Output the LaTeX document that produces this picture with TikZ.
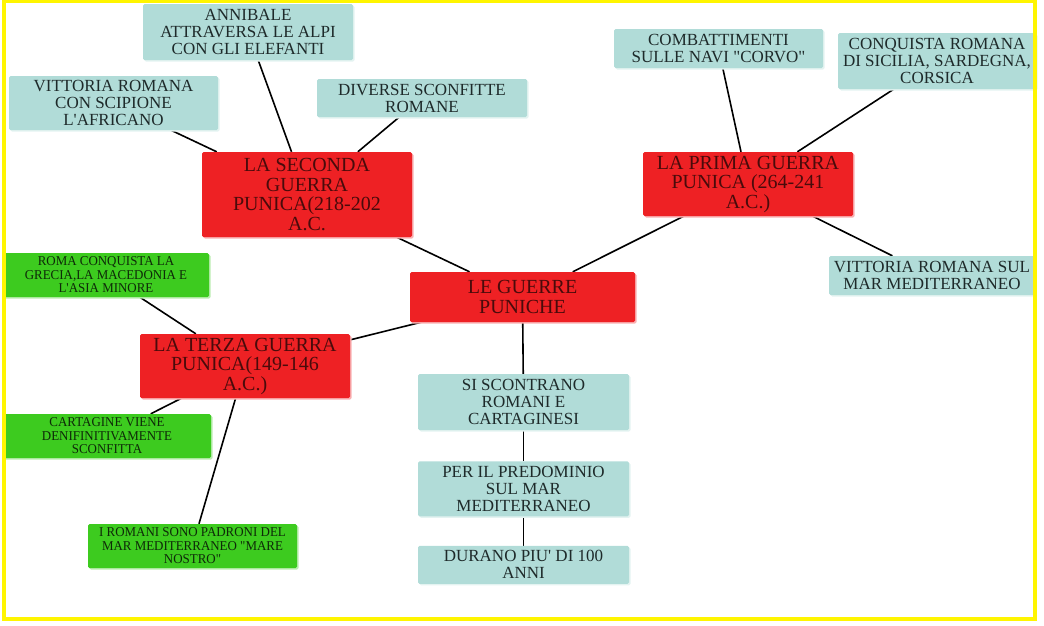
\documentclass[tikz,border=0pt]{standalone}
\usepackage{fontspec}
\setmainfont{Liberation Serif}[Ligatures=TeXOff]
\newfontfamily\narrowserif{Liberation Serif}[FakeStretch=0.96, Ligatures=TeXOff]
\usetikzlibrary{positioning, shadows, backgrounds}
\definecolor{Map_Red}{HTML}{EE2124}
\definecolor{Map_Teal}{HTML}{B1DCD8}
\definecolor{Map_Green}{HTML}{3DCB1F}
\definecolor{Map_Wine}{HTML}{4A0B0B}
\definecolor{Map_Ink}{HTML}{1E2A2A}
\definecolor{Map_Leaf}{HTML}{0E2A08}
\definecolor{Map_Yellow}{HTML}{FFF500}

\begin{document}
\begin{tikzpicture}[x=1pt, y=-1pt,
  box/.style={fill=#1, rounded corners=1.5pt, align=center, inner xsep=2pt, inner ysep=1pt,
    drop shadow={shadow xshift=1.5pt, shadow yshift=-1.5pt, opacity=1, fill=#1!35}},
  war/.style={box=Map_Red, text=Map_Wine, font=\fontsize{20}{19.5}\selectfont,
    minimum width=210pt},
  fact/.style={box=Map_Teal, text=Map_Ink, font=\fontsize{17}{17}\selectfont,
    minimum width=210pt},
  note/.style={box=Map_Green, text=Map_Leaf, font=\narrowserif\fontsize{13.5}{13.5}\selectfont,
    minimum width=209pt, minimum height=44pt},
  link/.style={line width=1.6pt, black}
]
  \useasboundingbox (0,0) rectangle (1044,625);

  % Central topic and the three wars
  \node[war, minimum width=225pt, minimum height=50pt] (main) at (522.5,297) {LE GUERRE\\PUNICHE};
  \node[war, minimum height=85pt] (seconda) at (307,194.5) {LA SECONDA\\GUERRA\\PUNICA(218-202\\A.C.};
  \node[war, minimum height=64pt] (prima) at (748,184) {LA PRIMA GUERRA\\PUNICA (264-241\\A.C.)};
  \node[war, minimum height=64pt] (terza) at (245,366) {LA TERZA GUERRA\\PUNICA(149-146\\A.C.)};

  % Second war
  \node[fact, minimum height=56pt] (annibale) at (248,32) {ANNIBALE\\ATTRAVERSA LE ALPI\\CON GLI ELEFANTI};
  \node[fact, minimum width=209pt, minimum height=54pt] (scipione) at (113.5,103) {VITTORIA ROMANA\\CON SCIPIONE\\L'AFRICANO};
  \node[fact, minimum height=38pt] (sconfitte) at (422,98) {DIVERSE SCONFITTE\\ROMANE};

  % First war
  \node[fact, minimum width=209pt, minimum height=39pt] (corvo) at (718.5,48.5) {COMBATTIMENTI\\SULLE NAVI "CORVO"};
  \node[fact, minimum width=198pt, minimum height=56pt] (conquista) at (937,61) {CONQUISTA ROMANA\\DI SICILIA, SARDEGNA,\\CORSICA};
  \node[fact, minimum width=206pt, minimum height=39pt] (vittmare) at (932,275.5) {VITTORIA ROMANA SUL\\MAR MEDITERRANEO};

  % Third war
  \node[note, minimum width=206pt] (grecia) at (106,275) {ROMA CONQUISTA LA\\GRECIA,LA MACEDONIA E\\L'ASIA MINORE};
  \node[note, minimum width=208pt] (cartagine) at (107,436) {CARTAGINE VIENE\\DENIFINITIVAMENTE\\SCONFITTA};
  \node[note] (padroni) at (192.5,546) {I ROMANI SONO PADRONI DEL\\MAR MEDITERRANEO "MARE\\NOSTRO"};

  % Chain under the centre
  \node[fact, minimum width=211pt, minimum height=56pt] (scontro) at (523.5,402) {SI SCONTRANO\\ROMANI E\\CARTAGINESI};
  \node[fact, minimum width=211pt, minimum height=55pt, below=31pt of scontro] (predominio) {PER IL PREDOMINIO\\SUL MAR\\MEDITERRANEO};
  \node[fact, minimum width=211pt, minimum height=38pt, below=29pt of predominio] (durata) {DURANO PIU' DI 100\\ANNI};

  % Connectors
  \begin{scope}[on background layer]
    \draw[link] (annibale) -- (seconda);
    \draw[link] (scipione) -- (seconda);
    \draw[link] (sconfitte) -- (seconda);
    \draw[link] (seconda) -- (main);
    \draw[link] (corvo) -- (prima);
    \draw[link] (conquista) -- (prima);
    \draw[link] (prima) -- (main);
    \draw[link] (prima) -- (vittmare);
    \draw[link] (main) -- (terza);
    \draw[link] (grecia) -- (terza);
    \draw[link] (terza) -- (cartagine);
    \draw[link] (terza) -- (padroni);
    \draw[link] (main) -- (scontro);
    \draw[link] (scontro) -- (predominio);
    \draw[link] (predominio) -- (durata);
  \end{scope}

  % Frame
  \draw[Map_Yellow, line width=4pt] (4,1) rectangle (1035,619);
\end{tikzpicture}
\end{document}
